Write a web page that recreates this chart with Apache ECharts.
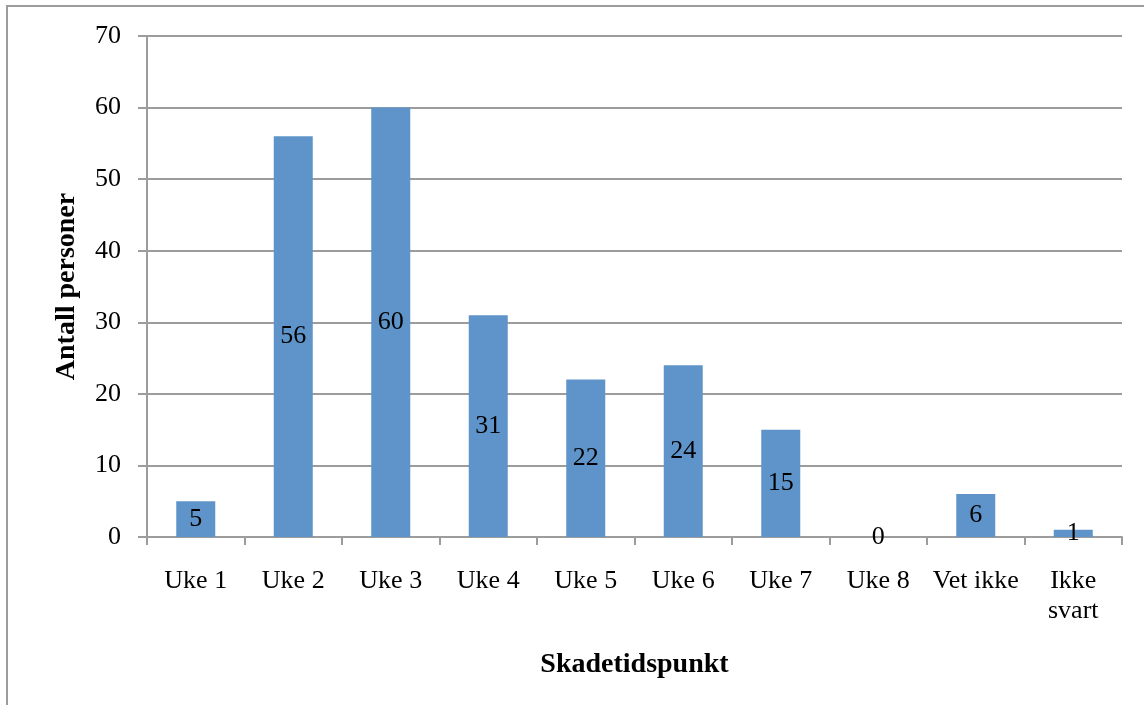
<!DOCTYPE html>
<html>
<head>
<meta charset="utf-8">
<script src="https://cdn.jsdelivr.net/npm/echarts@6/dist/echarts.min.js"></script>
<style>
  html, body { margin: 0; padding: 0; background: #fff; }
  #chart { width: 1144px; height: 705px; }
</style>
</head>
<body>
<div id="chart"></div>
<script>
// Injury timing: number of people per week
const categories = ['Uke 1', 'Uke 2', 'Uke 3', 'Uke 4', 'Uke 5', 'Uke 6', 'Uke 7', 'Uke 8', 'Vet ikke', 'Ikke svart'];
const antallPersoner = [5, 56, 60, 31, 22, 24, 15, 0, 6, 1];
const yTicks = { min: 0, max: 70, interval: 10 };

const FONT = '"Liberation Serif", "DejaVu Serif", serif';
const GRAY = '#9c9c9c';
const SIZE = 26;
const TITLE_SIZE = 28;

const chart = echarts.init(document.getElementById('chart'), null, { renderer: 'canvas' });

chart.setOption({
  backgroundColor: '#ffffff',
  animation: false,
  textStyle: { fontFamily: FONT },
  graphic: [{
    type: 'rect',
    shape: { x: 7, y: 6, width: 1160, height: 720 },
    style: { fill: 'none', stroke: GRAY, lineWidth: 2 },
    silent: true
  }],
  grid: { left: 147, right: 22, top: 36, bottom: 168, containLabel: false },
  xAxis: {
    type: 'category',
    data: categories,
    name: 'Skadetidspunkt',
    nameLocation: 'middle',
    nameGap: 114,
    nameTextStyle: { fontFamily: FONT, fontSize: TITLE_SIZE, fontWeight: 'bold', color: '#000' },
    axisLine: { show: true, lineStyle: { color: GRAY, width: 2 } },
    axisTick: { show: true, length: 8, alignWithLabel: false, lineStyle: { color: GRAY, width: 2 } },
    axisLabel: {
      fontFamily: FONT, fontSize: SIZE, color: '#000', margin: 29, lineHeight: 30,
      interval: 0,
      formatter: v => v.replace('Ikke ', 'Ikke\n')
    },
    splitLine: { show: false }
  },
  yAxis: {
    type: 'value',
    min: yTicks.min,
    max: yTicks.max,
    interval: yTicks.interval,
    name: 'Antall personer',
    nameLocation: 'middle',
    nameGap: 66,
    nameRotate: 90,
    nameTextStyle: { fontFamily: FONT, fontSize: TITLE_SIZE, fontWeight: 'bold', color: '#000' },
    axisLine: { show: true, lineStyle: { color: GRAY, width: 2 } },
    axisTick: { show: true, length: 9, lineStyle: { color: GRAY, width: 2 } },
    axisLabel: { fontFamily: FONT, fontSize: SIZE, color: '#000', margin: 26 },
    splitLine: { show: true, lineStyle: { color: GRAY, width: 2 } }
  },
  series: [{
    type: 'bar',
    data: antallPersoner,
    barWidth: '40%',
    itemStyle: { color: '#5e94c9' },
    label: {
      show: true,
      position: 'inside',
      fontFamily: FONT,
      fontSize: SIZE,
      color: '#000'
    }
  }]
});
</script>
</body>
</html>
